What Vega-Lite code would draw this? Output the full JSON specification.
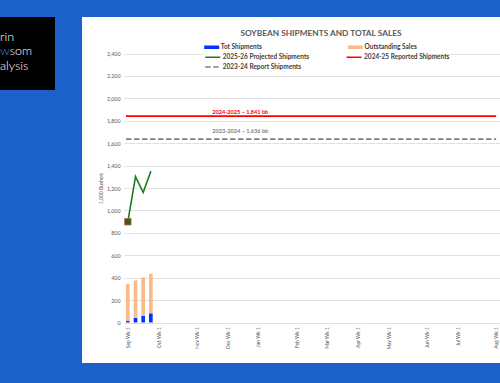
{
  "$schema": "https://vega.github.io/schema/vega-lite/v6.json",
  "background": "#1c60c9",
  "padding": {"left": 0, "top": 0, "right": 0, "bottom": 20},
  "spacing": 27,
  "config": {"view": {"stroke": null}, "font": "Lato"},
  "resolve": {"scale": {"fill": "independent", "stroke": "independent", "strokeDash": "independent"}},
  "datasets": {
    "logo": [
      {"line": "1", "text": "rin"},
      {"line": "3", "text": "alysis"}
    ],
    "logo2": [
      {"line": "2", "first": "w", "rest": "som"}
    ],
    "bars": [
      {"week": "Sep Wk 1", "series": "Tot Shipments", "value": 13},
      {"week": "Sep Wk 1", "series": "Outstanding Sales", "value": 330},
      {"week": "Sep Wk 2", "series": "Tot Shipments", "value": 40},
      {"week": "Sep Wk 2", "series": "Outstanding Sales", "value": 336},
      {"week": "Sep Wk 3", "series": "Tot Shipments", "value": 58},
      {"week": "Sep Wk 3", "series": "Outstanding Sales", "value": 345},
      {"week": "Sep Wk 4", "series": "Tot Shipments", "value": 82},
      {"week": "Sep Wk 4", "series": "Outstanding Sales", "value": 353}
    ],
    "proj": [
      {"week": "Sep Wk 1", "series": "2025-26 Projected Shipments", "value": 899},
      {"week": "Sep Wk 2", "series": "2025-26 Projected Shipments", "value": 1301},
      {"week": "Sep Wk 3", "series": "2025-26 Projected Shipments", "value": 1161},
      {"week": "Sep Wk 4", "series": "2025-26 Projected Shipments", "value": 1349}
    ],
    "refs": [
      {"series": "2024-25 Reported Shipments", "value": 1841, "label": "2024-2025 ~ 1,841 bb"},
      {"series": "2023-24 Report Shipments", "value": 1636, "label": "2023-2024 ~ 1,636 bb"}
    ]
  },
  "hconcat": [
    {
      "width": 55,
      "height": 73,
      "view": {"fill": "black", "stroke": null},
      "layer": [
        {
          "data": {"name": "logo"},
          "mark": {"type": "text", "align": "left", "baseline": "alphabetic", "fontSize": 12.5, "font": "Lato", "fontWeight": 300, "color": "white"},
          "encoding": {
            "x": {"datum": 0, "type": "quantitative", "scale": {"domain": [0, 1]}, "axis": null},
            "y": {"field": "line", "type": "ordinal", "scale": {"domain": ["1", "2", "3"], "range": [24, 52.5], "padding": 0}, "axis": null},
            "text": {"field": "text"}
          }
        },
        {
          "data": {"name": "logo2"},
          "mark": {"type": "text", "align": "right", "baseline": "alphabetic", "fontSize": 12.5, "font": "Lato", "fontWeight": 300, "color": "#3d8fe8"},
          "encoding": {
            "x": {"datum": 0.175, "type": "quantitative", "axis": null},
            "y": {"field": "line", "type": "ordinal", "axis": null},
            "text": {"field": "first"}
          }
        },
        {
          "data": {"name": "logo2"},
          "mark": {"type": "text", "align": "left", "baseline": "alphabetic", "fontSize": 12.5, "font": "Lato", "fontWeight": 300, "color": "white"},
          "encoding": {
            "x": {"datum": 0.175, "type": "quantitative", "axis": null},
            "y": {"field": "line", "type": "ordinal", "axis": null},
            "text": {"field": "rest"}
          }
        }
      ]
    },
    {
      "width": 418,
      "height": 346,
      "view": {"fill": "white", "stroke": null},
      "title": {"text": "SOYBEAN SHIPMENTS AND TOTAL SALES", "frame": "group", "anchor": "middle", "offset": -37, "dx": 30, "fontSize": 8.3, "fontWeight": "bold", "color": "#595959", "font": "Lato"},
      "resolve": {"axis": {"x": "independent", "y": "independent"}},
      "layer": [
        {
          "data": {"name": "bars"},
          "mark": {"type": "bar"},
          "encoding": {
            "x": {
              "field": "week", "type": "ordinal",
              "scale": {
                "domain": ["Sep Wk 1","Sep Wk 2","Sep Wk 3","Sep Wk 4","Oct Wk 1","Oct Wk 2","Oct Wk 3","Oct Wk 4","Oct Wk 5","Nov Wk 1","Nov Wk 2","Nov Wk 3","Nov Wk 4","Dec Wk 1","Dec Wk 2","Dec Wk 3","Dec Wk 4","Jan Wk 1","Jan Wk 2","Jan Wk 3","Jan Wk 4","Jan Wk 5","Feb Wk 1","Feb Wk 2","Feb Wk 3","Feb Wk 4","Mar Wk 1","Mar Wk 2","Mar Wk 3","Mar Wk 4","Apr Wk 1","Apr Wk 2","Apr Wk 3","Apr Wk 4","May Wk 1","May Wk 2","May Wk 3","May Wk 4","May Wk 5","Jun Wk 1","Jun Wk 2","Jun Wk 3","Jun Wk 4","Jul Wk 1","Jul Wk 2","Jul Wk 3","Jul Wk 4","Jul Wk 5","Aug Wk 1"],
                "range": [42, 418], "paddingInner": 0.52, "paddingOuter": 0.26
              },
              "axis": {"orient": "bottom", "offset": -40.5, "labelAngle": -90, "labelAlign": "right", "labelBaseline": "middle", "labelFontSize": 5, "labelFont": "Lato", "labelColor": "#595959", "labelPadding": 4, "ticks": false, "domain": false, "grid": false, "title": null, "labelOverlap": false, "labelExpr": "indexof(datum.label, 'Wk 1') >= 0 ? datum.label : ''"}
            },
            "y": {
              "field": "value", "type": "quantitative", "stack": "zero",
              "scale": {"domain": [0, 2400], "range": [305.5, 36.5], "nice": false},
              "axis": {"orient": "left", "offset": -42, "values": [0,200,400,600,800,1000,1200,1400,1600,1800,2000,2200,2400], "format": ",d", "grid": true, "gridColor": "#d9d9d9", "gridWidth": 0.8, "domain": false, "ticks": false, "labelFontSize": 5.3, "labelFont": "Lato", "labelColor": "#595959", "labelPadding": 4, "title": "1,000 Bushels", "titleFontSize": 5, "titleFont": "Lato", "titleFontWeight": "normal", "titleColor": "#595959", "titlePadding": 3}
            },
            "fill": {
              "field": "series", "type": "nominal",
              "scale": {"domain": ["Tot Shipments", "Outstanding Sales"], "range": ["#0433ff", "#f9bb8c"]},
              "legend": {
                "title": null, "orient": "none", "legendX": 120.7, "legendY": 21,
                "columns": 2, "columnPadding": 84.7, "rowPadding": 0, "gridAlign": "each",
                "fillColor": "white", "padding": 4,
                "labelFont": "Lato", "labelFontSize": 6.5, "labelFontWeight": "bold", "labelColor": "#404040", "labelOffset": 4.1, "labelLimit": 0,
                "symbolSize": 100, "symbolType": "M-1.5,-0.35H1.5V0.35H-1.5Z", "symbolStrokeWidth": 0
              }
            },
            "order": {"field": "series", "sort": "descending"}
          }
        },
        {
          "data": {"name": "proj"},
          "mark": {"type": "line", "strokeWidth": 1.6},
          "encoding": {
            "x": {"field": "week", "type": "ordinal", "axis": {"orient": "top", "labels": false, "ticks": false, "domain": false, "grid": false, "title": null, "minExtent": 17, "maxExtent": 17}},
            "y": {"field": "value", "type": "quantitative", "axis": null},
            "stroke": {
              "field": "series", "type": "nominal",
              "scale": {"domain": ["2025-26 Projected Shipments", "2023-24 Report Shipments", "2024-25 Reported Shipments"], "range": ["#1e7b1e", "#808080", "#ff0000"]},
              "legend": {
                "title": null, "orient": "none", "legendX": 124.7, "legendY": 34,
                "columns": 2, "columnPadding": 33.3, "rowPadding": 0, "gridAlign": "each",
                "padding": 0,
                "labelFont": "Lato", "labelFontSize": 6.5, "labelFontWeight": "bold", "labelColor": "#404040", "labelOffset": 4.1, "labelLimit": 0,
                "symbolSize": 100, "symbolType": "M-1.5,0H1.5", "symbolStrokeWidth": 1.4
              }
            },
            "strokeDash": {
              "field": "series", "type": "nominal",
              "scale": {"domain": ["2025-26 Projected Shipments", "2023-24 Report Shipments", "2024-25 Reported Shipments"], "range": [[1, 0], [5.5, 2.5], [1, 0]]},
              "legend": {
                "title": null, "orient": "none", "legendX": 124.7, "legendY": 34,
                "columns": 2, "columnPadding": 33.3, "rowPadding": 0, "gridAlign": "each",
                "padding": 0,
                "labelFont": "Lato", "labelFontSize": 6.5, "labelFontWeight": "bold", "labelColor": "#404040", "labelOffset": 4.1, "labelLimit": 0,
                "symbolSize": 100, "symbolType": "M-1.5,0H1.5", "symbolStrokeWidth": 1.4
              }
            }
          }
        },
        {
          "data": {"name": "proj"},
          "transform": [{"filter": "datum.week === 'Sep Wk 1'"}],
          "mark": {"type": "point", "shape": "square", "filled": true, "size": 42, "color": "#1a6e1a", "stroke": "#e05050", "strokeWidth": 0.8, "opacity": 1},
          "encoding": {
            "x": {"field": "week", "type": "ordinal", "axis": null},
            "y": {"field": "value", "type": "quantitative", "axis": null}
          }
        },
        {
          "data": {"name": "refs"},
          "mark": {"type": "rule", "strokeWidth": 1.6},
          "encoding": {
            "x": {"datum": "Sep Wk 1", "type": "ordinal", "bandPosition": 0, "axis": null},
            "x2": {"datum": "Aug Wk 1"},
            "y": {"field": "value", "type": "quantitative", "axis": null},
            "stroke": {"field": "series", "type": "nominal", "scale": {"domain": ["2025-26 Projected Shipments", "2023-24 Report Shipments", "2024-25 Reported Shipments"], "range": ["#1e7b1e", "#808080", "#ff0000"]}},
            "strokeDash": {"field": "series", "type": "nominal", "scale": {"domain": ["2025-26 Projected Shipments", "2023-24 Report Shipments", "2024-25 Reported Shipments"], "range": [[1, 0], [5.5, 2.5], [1, 0]]}}
          }
        },
        {
          "data": {"name": "refs"},
          "transform": [{"filter": "datum.series === '2024-25 Reported Shipments'"}],
          "mark": {"type": "text", "align": "left", "baseline": "bottom", "dy": -1, "fontSize": 5.6, "fontWeight": "bold", "font": "Lato", "color": "#ff0000"},
          "encoding": {
            "x": {"datum": "Nov Wk 3", "type": "ordinal", "axis": null},
            "y": {"field": "value", "type": "quantitative", "axis": null},
            "text": {"field": "label"}
          }
        },
        {
          "data": {"name": "refs"},
          "transform": [{"filter": "datum.series === '2023-24 Report Shipments'"}],
          "mark": {"type": "text", "align": "left", "baseline": "bottom", "dy": -5, "fontSize": 5.6, "fontWeight": "bold", "font": "Lato", "color": "#7f7f7f"},
          "encoding": {
            "x": {"datum": "Nov Wk 3", "type": "ordinal", "axis": null},
            "y": {"field": "value", "type": "quantitative", "axis": null},
            "text": {"field": "label"}
          }
        }
      ]
    }
  ]
}
